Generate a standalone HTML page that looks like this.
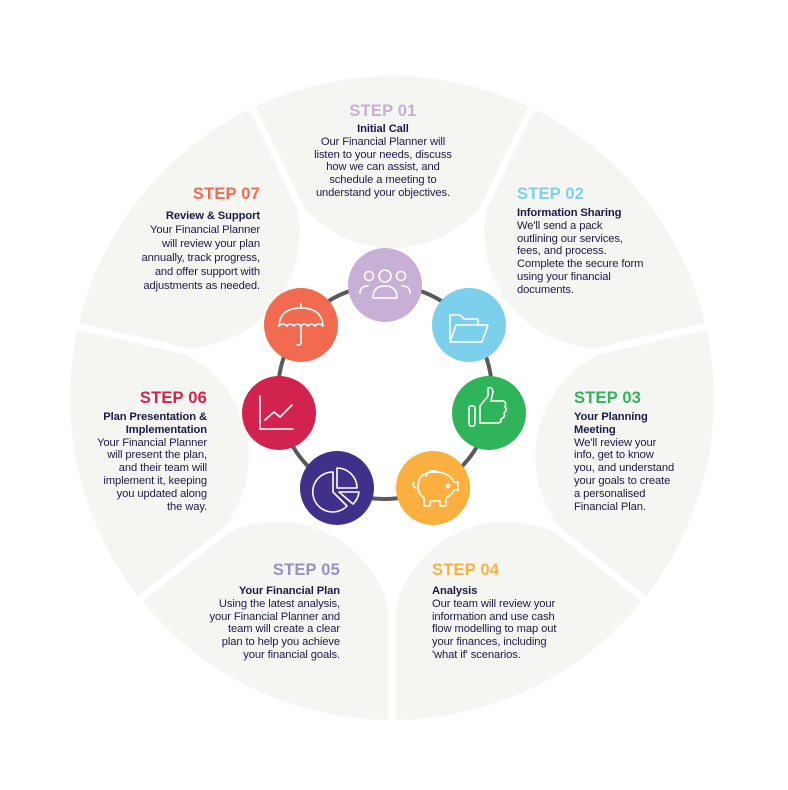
<!DOCTYPE html>
<html><head><meta charset="utf-8"><style>
body{margin:0;width:788px;height:790px;background:#fff;position:relative;overflow:hidden;font-family:"Liberation Sans",sans-serif;color:#1c1a4a}
.t{position:absolute;font-size:11.2px;line-height:12.8px;white-space:nowrap;letter-spacing:-0.1px}
.h{font-weight:bold;font-size:16.5px;line-height:18px;margin-bottom:4px;letter-spacing:0.2px}
.r{text-align:right}.c{text-align:center}
b{font-weight:bold}
</style></head><body>
<svg width="788" height="790" style="position:absolute;left:0;top:0">
<defs><path id="p" d="M -103.7,-215.3 L -139.7,-290.1 A 322 322 0 0 1 139.7,-290.1 L 103.7,-215.3 A 115 115 0 0 1 -103.7,-215.3 Z" fill="#f5f5f1"/>
<line id="g" x1="0" y1="-200" x2="0" y2="-335" stroke="#fff" stroke-width="7"/></defs>
<g transform="translate(392,398)">
<use href="#p" transform="rotate(0)"/><use href="#p" transform="rotate(51.43)"/><use href="#p" transform="rotate(102.86)"/><use href="#p" transform="rotate(154.29)"/><use href="#p" transform="rotate(205.71)"/><use href="#p" transform="rotate(257.14)"/><use href="#p" transform="rotate(308.57)"/>
<use href="#g" transform="rotate(25.71)"/><use href="#g" transform="rotate(77.14)"/><use href="#g" transform="rotate(128.57)"/><use href="#g" transform="rotate(180)"/><use href="#g" transform="rotate(231.43)"/><use href="#g" transform="rotate(282.86)"/><use href="#g" transform="rotate(334.29)"/>
</g>
<circle cx="385" cy="392" r="107" fill="none" stroke="#5a5a5a" stroke-width="4"/>
<g fill="none" stroke="#fff" stroke-width="1.6" stroke-linecap="round" stroke-linejoin="round">
<circle cx="385" cy="285" r="37" fill="#c8afd5" stroke="none"/>
<circle cx="385" cy="276" r="6"/><circle cx="369" cy="276" r="4.5"/><circle cx="401" cy="276" r="4.5"/>
<path d="M373 298 q0-12 12-12 q12 0 12 12 z"/><path d="M360 293 q0-7 8-7"/><path d="M410 293 q0-7-8-7"/>
<circle cx="469" cy="325" r="37" fill="#7dd0ec" stroke="none"/>
<path d="M450 342 v-27 h10 l4 4 h14 v6 M450 342 l6-17 h32 l-6 17 z"/>
<circle cx="489" cy="413" r="37" fill="#30b45a" stroke="none"/>
<rect x="469" y="406" width="6" height="20" rx="2"/><path d="M480 406 l8-10 v-8 q4-2 5 4 l-2 9 h12 q4 1 2 6 q3 3-1 6 q2 4-3 6 q1 4-4 4 h-17 z"/>
<circle cx="433" cy="488" r="37" fill="#fbb040" stroke="none"/>
<path d="M418 486 q0-14 17-14 q14 0 19 10 h4 v8 h-4 q-3 6-8 8 v8 h-6 v-5 h-10 v5 h-6 v-8 q-6-4-6-12 z M414 482 q-3 3 2 6"/><circle cx="448" cy="486" r="1.5"/><path d="M426 476 q4-8 12-4"/>
<circle cx="337" cy="488" r="37" fill="#41308a" stroke="none"/>
<path d="M333 472 a20 20 0 1 0 14 34 l-14 -14 z"/><path d="M337 468 a20 20 0 0 1 20 20 h-20 z"/><path d="M339 492 h20 a20 20 0 0 1 -6 12 z"/>
<circle cx="279" cy="413" r="37" fill="#d2234f" stroke="none"/>
<path d="M260 396 v33 h33"/><path d="M265 420 l9-8 l6 5 l12-12"/>
<circle cx="301" cy="325" r="37" fill="#f26b50" stroke="none"/>
<path d="M279 326 q1-18 22-18 q21 0 22 18 q-4-4-8 0 q-4-4-7 0 q-4-4-7 0 q-4-4-7 0 q-4-4-7 0 q-4-4-8 0 z M301 308 v-4 M301 326 v16 q0 4-4 3"/>
</g>
</svg>
<div class="t c" style="left:283px;top:102px;width:200px"><div class="h" style="color:#c8afd5;margin-bottom:3px">STEP 01</div><b>Initial Call</b><br>Our Financial Planner will<br>listen to your needs, discuss<br>how we can assist, and<br>schedule a meeting to<br>understand your objectives.</div>
<div class="t r" style="left:60px;top:185px;width:200px;line-height:14px"><div class="h" style="color:#f26b50;margin-bottom:6px">STEP 07</div><b>Review &amp; Support</b><br>Your Financial Planner<br>will review your plan<br>annually, track progress,<br>and offer support with<br>adjustments as needed.</div>
<div class="t" style="left:517px;top:185px"><div class="h" style="color:#7dd0ec;margin-bottom:4px">STEP 02</div><b>Information Sharing</b><br>We'll send a pack<br>outlining our services,<br>fees, and process.<br>Complete the secure form<br>using your financial<br>documents.</div>
<div class="t" style="left:574px;top:389px"><div class="h" style="color:#30b45a;margin-bottom:4px">STEP 03</div><b>Your Planning<br>Meeting</b><br>We'll review your<br>info, get to know<br>you, and understand<br>your goals to create<br>a personalised<br>Financial Plan.</div>
<div class="t r" style="left:7px;top:389px;width:200px"><div class="h" style="color:#d2234f;margin-bottom:4px">STEP 06</div><b>Plan Presentation &amp;<br>Implementation</b><br>Your Financial Planner<br>will present the plan,<br>and their team will<br>implement it, keeping<br>you updated along<br>the way.</div>
<div class="t r" style="left:140px;top:561px;width:200px"><div class="h" style="color:#9a90c8;margin-bottom:6px">STEP 05</div><b>Your Financial Plan</b><br>Using the latest analysis,<br>your Financial Planner and<br>team will create a clear<br>plan to help you achieve<br>your financial goals.</div>
<div class="t" style="left:432px;top:561px"><div class="h" style="color:#fbb040;margin-bottom:6px">STEP 04</div><b>Analysis</b><br>Our team will review your<br>information and use cash<br>flow modelling to map out<br>your finances, including<br>'what if' scenarios.</div>
</body></html>
